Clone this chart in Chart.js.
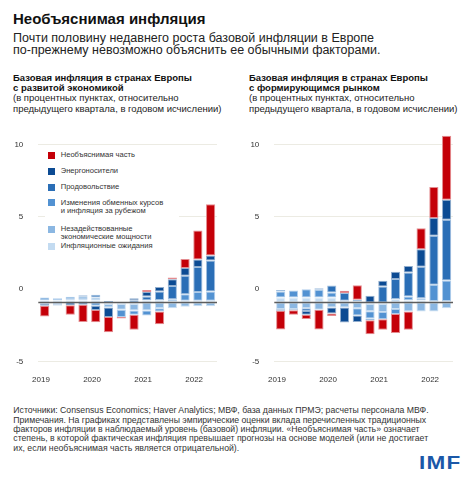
<!DOCTYPE html>
<html><head><meta charset="utf-8">
<script src="https://cdn.jsdelivr.net/npm/chart.js@4.4.1/dist/chart.umd.min.js"></script>
<style>
html,body{margin:0;padding:0;background:#fff;}
body{width:472px;height:480px;position:relative;overflow:hidden;font-family:Arial,"Liberation Sans",sans-serif;color:#222;}
.abs{position:absolute;white-space:nowrap;}
#title{left:13px;top:11px;font-size:15px;line-height:15px;font-weight:bold;color:#111;}
#sub{left:13px;top:31.75px;font-size:12.5px;line-height:12.5px;color:#222;}
.ptitle{top:72.85px;font-size:9.5px;line-height:10.3px;color:#222;}
.ptitle b{color:#111;}
#footer{left:13.3px;top:406.4px;font-size:8.7px;line-height:9.3px;color:#333;}
#imf{left:419px;top:453.8px;font-size:18px;line-height:18px;font-weight:bold;color:#1b58a8;letter-spacing:1px;transform:scaleX(1.25);transform-origin:left top;}
canvas.ch{position:absolute;top:112.6px;}
#legend{left:45px;top:147px;width:134px;height:105px;background:#fff;}
.li{position:absolute;left:15.7px;font-size:7.6px;line-height:8.5px;color:#333;white-space:pre-line;}
.lb{position:absolute;left:-12.4px;top:0.75px;width:7px;height:7px;}
</style>
</head>
<body>
<div id="title" class="abs">Необъяснимая инфляция</div>
<div id="sub" class="abs">Почти половину недавнего роста базовой инфляции в Европе<br>по-прежнему невозможно объяснить ее обычными факторами.</div>
<div class="abs ptitle" style="left:13px"><b>Базовая инфляция в странах Европы<br>с развитой экономикой</b><br>(в процентных пунктах, относительно<br>предыдущего квартала, в годовом исчислении)</div>
<div class="abs ptitle" style="left:249px"><b>Базовая инфляция в странах Европы<br>с формирующимся рынком</b><br>(в процентных пунктах, относительно<br>предыдущего квартала, в годовом исчислении)</div>
<canvas id="c1" class="ch" width="236" height="281" style="left:0px;width:236px;height:281px"></canvas>
<canvas id="c2" class="ch" width="236" height="281" style="left:236px;width:236px;height:281px"></canvas>
<div id="legend" class="abs"></div>
<div id="footer" class="abs">Источники: Consensus Economics; Haver Analytics; МВФ, база данных ПРМЭ; расчеты персонала МВФ.<br>Примечания. На графиках представлены эмпирические оценки вклада перечисленных традиционных<br>факторов инфляции в наблюдаемый уровень (базовой) инфляции. «Необъяснимая часть» означает<br>степень, в которой фактическая инфляция превышает прогнозы на основе моделей (или не достигает<br>их, если необъяснимая часть является отрицательной).</div>
<div id="imf" class="abs">IMF</div>
<script>
// ---- data ----
const quarters = ['2019 Q1','2019 Q2','2019 Q3','2019 Q4','2020 Q1','2020 Q2','2020 Q3','2020 Q4','2021 Q1','2021 Q2','2021 Q3','2021 Q4','2022 Q1','2022 Q2'];
const yTicks = [-5, 0, 5, 10];
const seriesNames = ['Инфляционные ожидания', 'Незадействованные\nэкономические мощности', 'Изменения обменных курсов\nи инфляция за рубежом', 'Продовольствие', 'Энергоносители', 'Необъяснимая часть'];
const seriesColors = ['#c3dbf1', '#8bb7e2', '#5292d2', '#2a6eb6', '#0c4b93', '#c40008'];

// Advanced Europe
const advExpectations = [0.15, 0.15, 0.15, 0.15, 0.15, -0.1, -0.1, -0.1, 0.16, 0.18, 0.1, 0.12, 0.12, 0.12];
const advSlack        = [-0.1, -0.12, 0.1, 0.1, 0.2, -0.25, -0.4, -0.45, -0.55, -0.4, -0.4, -0.3, -0.25, -0.25];
const advExchange     = [0.2, 0.15, 0.15, 0.15, -0.23, 0, -0.5, -0.3, -0.35, -0.22, 0.13, 0.46, 0.6, 0.64];
const advFood         = [0, -0.08, 0, 0.1, 0.18, 0.1, 0, 0.15, 0.25, 0.58, 0.92, 1.27, 1.73, 2.14];
const advEnergy       = [-0.13, 0, -0.18, -0.15, -0.28, -0.65, 0, 0.15, 0.32, 0.32, 0.46, 0.53, 0.53, 0.35];
const advUnexplained  = [-0.74, 0, -0.67, -1.2, -0.85, -1.06, -0.1, -1.04, 0.14, -0.88, 0.12, 0.62, 2.0, 3.55];

// Emerging Europe
const emExpectations = [0.35, 0.35, 0.35, 0.35, 0.35, 0.12, 0.07, -0.1, -0.1, 0.25, 0.15, 0.15, 0.1, 0.1];
const emSlack        = [-0.46, -0.46, -0.39, -0.5, -0.35, -0.35, -0.4, -0.5, -0.55, -0.45, -0.62, -0.62, -0.62, -0.4];
const emExchange     = [0.41, 0.48, 0.57, 0.53, 0.35, 0, -0.5, -0.5, -0.5, -0.35, 0.26, 0.15, 1.12, 1.42];
const emFood         = [0.1, 0, -0.2, 0.1, 0.48, 0.53, 0.12, -0.12, 1.1, 1.38, 1.66, 2.18, 3.4, 4.2];
const emEnergy       = [-0.1, -0.07, -0.25, 0, -0.4, -1.03, -0.45, 0.46, 0.4, 0.5, 0.46, 1.2, 1.22, 1.38];
const emUnexplained  = [-1.31, -0.32, -0.3, -1.36, -0.18, 0.16, 1.01, -0.97, -0.74, -1.31, -1.27, 1.45, 2.14, 4.42];

// ---- styling / layout ----
const AXIS_MIN = -5.6, AXIS_MAX = 10.8;   // displayed axis range
const BASE_SHIFT = 0.93;                  // bars' zero line sits below the labelled 0 in the original
const legendTops = [3.75, 20.4, 36, 51.7, 77.8, 95.4];

function tint(hex, t) {
  const n = parseInt(hex.slice(1), 16);
  const r = (n >> 16) & 255, g = (n >> 8) & 255, b = n & 255;
  const m = c => Math.round(c + (255 - c) * t);
  return `rgb(${m(r)},${m(g)},${m(b)})`;
}

const baseLine = {
  id: 'baseLine',
  afterDatasetsDraw(chart) {
    const {ctx, chartArea} = chart;
    const y = chart.scales.yd.getPixelForValue(0);
    ctx.save();
    ctx.strokeStyle = '#5d5d5d';
    ctx.lineWidth = 1.6;
    ctx.beginPath();
    ctx.moveTo(chartArea.left, y);
    ctx.lineTo(chartArea.right, y);
    ctx.stroke();
    ctx.restore();
  }
};

function makeChart(id, series) {
  const datasets = series.map((vals, i) => ({
    label: seriesNames[i],
    data: vals,
    backgroundColor: seriesColors[i],
    borderColor: tint(seriesColors[i], 0.55),
    borderWidth: 1,
    borderSkipped: false,
    barPercentage: 0.72,
    categoryPercentage: 1,
    yAxisID: 'yd',
    stack: 's'
  }));
  return new Chart(document.getElementById(id), {
    type: 'bar',
    data: {labels: quarters, datasets},
    plugins: [baseLine],
    options: {
      responsive: false,
      animation: false,
      devicePixelRatio: 1,
      layout: {padding: {top: 19.8, right: 19, left: 0, bottom: 0}},
      plugins: {legend: {display: false}, tooltip: {enabled: false}},
      scales: {
        x: {
          stacked: true,
          grid: {display: false, drawTicks: false},
          border: {display: false},
          ticks: {
            autoSkip: false, maxRotation: 0, minRotation: 0,
            padding: 4.5, labelOffset: -3.7,
            color: '#333', font: {family: 'Arial, "Liberation Sans", sans-serif', size: 8},
            callback: (v, i) => (i % 4 === 0 ? quarters[i].slice(0, 4) : '')
          },
          afterFit: s => { s.height = 23.9; }
        },
        y: {
          position: 'left',
          min: AXIS_MIN, max: AXIS_MAX,
          afterBuildTicks: s => { s.ticks = yTicks.map(v => ({value: v})); },
          grid: {
            drawTicks: false,
            color: c => (c.tick && c.tick.value === 0 ? 'rgba(0,0,0,0)' : '#ecebe3'),
            lineWidth: 1
          },
          border: {display: false},
          ticks: {
            padding: 15,
            color: '#333', font: {family: 'Arial, "Liberation Sans", sans-serif', size: 8}
          },
          afterFit: s => { s.width = 38.3; }
        },
        yd: {
          display: false,
          stacked: true,
          min: AXIS_MIN + BASE_SHIFT,
          max: AXIS_MAX + BASE_SHIFT
        }
      }
    }
  });
}

makeChart('c1', [advExpectations, advSlack, advExchange, advFood, advEnergy, advUnexplained]);
makeChart('c2', [emExpectations, emSlack, emExchange, emFood, emEnergy, emUnexplained]);

// legend (reverse order, inside left panel)
const lg = document.getElementById('legend');
for (let k = 0; k < seriesNames.length; k++) {
  const i = seriesNames.length - 1 - k;
  const it = document.createElement('div');
  it.className = 'li';
  it.style.top = legendTops[k] + 'px';
  it.textContent = seriesNames[i];
  const b = document.createElement('span');
  b.className = 'lb';
  b.style.background = seriesColors[i];
  it.appendChild(b);
  lg.appendChild(it);
}
</script>
</body></html>
